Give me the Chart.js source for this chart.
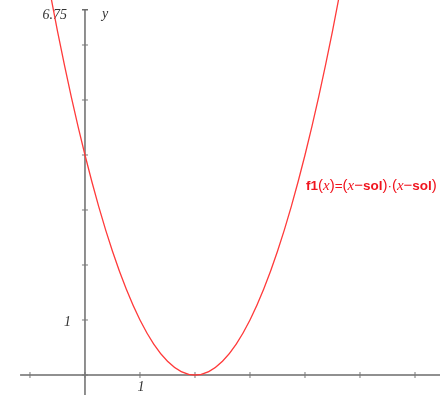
<!DOCTYPE html>
<html>
<head>
<meta charset="utf-8">
<script src="https://cdn.jsdelivr.net/npm/chart.js@4.4.1/dist/chart.umd.min.js"></script>
<style>
  html, body { margin: 0; padding: 0; background: #fff; }
  #wrap { width: 440px; height: 395px; position: relative; }
</style>
</head>
<body>
<div id="wrap"><canvas id="graph"></canvas></div>
<script>
const curveX = [-0.75, -0.5, -0.25, 0, 0.25, 0.5, 0.75, 1, 1.25, 1.5, 1.75, 2,
                2.25, 2.5, 2.75, 3, 3.25, 3.5, 3.75, 4, 4.25, 4.5, 4.75];
const curveY = [7.5625, 6.25, 5.0625, 4, 3.0625, 2.25, 1.5625, 1, 0.5625, 0.25, 0.0625, 0,
                0.0625, 0.25, 0.5625, 1, 1.5625, 2.25, 3.0625, 4, 5.0625, 6.25, 7.5625];

const xTicks = [-1, 0, 1, 2, 3, 4, 5, 6];
const yTicks = [0, 1, 2, 3, 4, 5, 6];
const yMaxLabel = "6.75";

const axisColor = "#6b6b6b";
const curveColor = "#ff3a3a";
const labelColor = "#f0141e";

const serif = "'Liberation Serif', 'DejaVu Serif', serif";
const sans = "'Liberation Sans', Arial, sans-serif";

// pieces of the function label, each with its own font
const paren = "15px " + sans;
const plain = "13.5px " + sans;
const minus = "15px " + sans;
const bold = "bold 13.5px " + sans;
const ital = "italic 15px " + serif;
const labelParts = [
    ["f1", bold], ["(", paren], ["x", ital], [")", paren], ["=", plain],
    ["(", paren], ["x", ital], ["\u2212", minus], ["sol", bold], [")", paren],
    ["\u00b7", plain],
    ["(", paren], ["x", ital], ["\u2212", minus], ["sol", bold], [")", paren]
];

const axesPlugin = {
    id: "axes",
    beforeDatasetsDraw(chart) {
        const ctx = chart.ctx;
        const sx = chart.scales.x, sy = chart.scales.y;
        const ox = sx.getPixelForValue(0), oy = sy.getPixelForValue(0);

        ctx.save();
        ctx.strokeStyle = axisColor;
        ctx.lineWidth = 1.5;

        // x axis
        ctx.beginPath();
        ctx.moveTo(sx.getPixelForValue(-1.18), oy);
        ctx.lineTo(chart.width, oy);
        ctx.stroke();

        // y axis with a cap at the top
        const top = sy.getPixelForValue(6.64);
        ctx.beginPath();
        ctx.moveTo(ox, chart.height);
        ctx.lineTo(ox, top);
        ctx.moveTo(ox - 3, top);
        ctx.lineTo(ox + 3, top);
        ctx.stroke();

        ctx.lineWidth = 1;
        ctx.strokeStyle = "#777";
        ctx.beginPath();
        xTicks.forEach(v => {
            const px = sx.getPixelForValue(v);
            ctx.moveTo(px, oy - 3);
            ctx.lineTo(px, oy + 3);
        });
        yTicks.forEach(v => {
            const py = sy.getPixelForValue(v);
            ctx.moveTo(ox - 3, py);
            ctx.lineTo(ox + 3, py);
        });
        ctx.stroke();

        // axis labels
        ctx.fillStyle = "#333";
        ctx.font = "italic 14px " + serif;
        ctx.textBaseline = "alphabetic";
        ctx.textAlign = "right";
        ctx.fillText(yMaxLabel, ox - 18, 19);
        ctx.fillText("1", ox - 14, sy.getPixelForValue(1) + 6);
        ctx.textAlign = "left";
        ctx.fillText("y", ox + 17, 18);
        ctx.textAlign = "center";
        ctx.fillText("1", sx.getPixelForValue(1) + 1, oy + 16);
        ctx.restore();
    },
    afterDatasetsDraw(chart) {
        const ctx = chart.ctx;
        ctx.save();
        ctx.fillStyle = labelColor;
        ctx.textBaseline = "alphabetic";
        ctx.textAlign = "left";
        let x = 306;
        const y = 190;
        labelParts.forEach(([txt, font]) => {
            ctx.font = font;
            ctx.fillText(txt, x, y);
            x += ctx.measureText(txt).width;
        });
        ctx.restore();
    }
};

new Chart(document.getElementById("graph"), {
    type: "line",
    data: {
        datasets: [{
            label: "f1",
            data: curveX.map((x, i) => ({ x: x, y: curveY[i] })),
            borderColor: curveColor,
            borderWidth: 1.3,
            pointRadius: 0,
            cubicInterpolationMode: "monotone",
            fill: false
        }]
    },
    options: {
        responsive: true,
        maintainAspectRatio: false,
        animation: false,
        layout: { padding: 0 },
        plugins: {
            legend: { display: false },
            tooltip: { enabled: false }
        },
        scales: {
            x: { type: "linear", min: -1.545, max: 6.4545, display: false },
            y: { type: "linear", min: -0.3636, max: 6.818, display: false }
        }
    },
    plugins: [axesPlugin]
});
</script>
</body>
</html>
